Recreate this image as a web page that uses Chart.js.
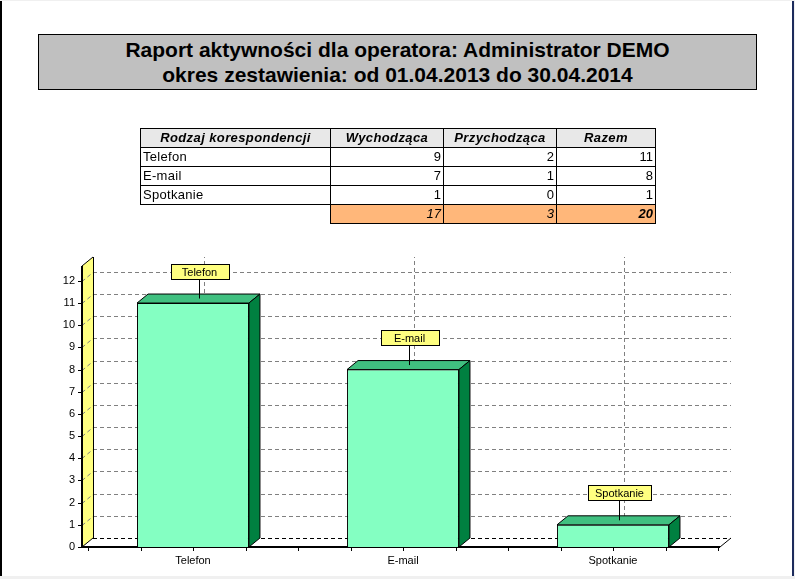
<!DOCTYPE html>
<html>
<head>
<meta charset="utf-8">
<script src="https://cdn.jsdelivr.net/npm/chart.js@4.4.1/dist/chart.umd.min.js"></script>
<style>
html, body { margin: 0; padding: 0; background: #f0f0f0; width: 795px; height: 579px; overflow: hidden; }
#page { position: absolute; left: 0; top: 1px; width: 794px; height: 575px; background: #fff;
        border-left: 2px solid #000; border-right: 2px solid #1c2b5c; box-sizing: border-box; }
#wykres { position: absolute; left: 0; top: 0; }
#tytul { position: absolute; left: 38px; top: 34px; width: 719px; height: 56px; box-sizing: border-box;
         background: #c0c0c0; border: 1px solid #000; text-align: center;
         font: bold 21px "Liberation Sans", Arial, sans-serif; line-height: 25px; padding-top: 2px; color: #000; }
#tabela { position: absolute; left: 140px; top: 128px; border-collapse: collapse;
          font: 13px "Liberation Sans", Arial, sans-serif; color: #000; }
#tabela td, #tabela th { border: 1px solid #000; height: 18px; padding: 0 2px; line-height: 16px; }
#tabela th { background: #e8e8e8; font-style: italic; font-weight: bold; text-align: center; letter-spacing: 0.4px; }
#tabela td.l { text-align: left; letter-spacing: 0.3px; }
#tabela td.r { text-align: right; }
#tabela tr.suma td { background: #ffb77a; font-style: italic; text-align: right; }
#tabela tr.suma td.pusty { background: transparent; border: none; }
</style>
</head>
<body>
<div id="page"></div>
<canvas id="wykres" width="795" height="579"></canvas>
<div id="tytul">Raport aktywności dla operatora: Administrator DEMO<br>okres zestawienia: od 01.04.2013 do 30.04.2014</div>
<table id="tabela"></table>
<script>
// dane z raportu
const kategorie = ['Telefon', 'E-mail', 'Spotkanie'];
const wychodzace = [9, 7, 1];
const przychodzace = [2, 1, 0];
const razem = [11, 8, 1];
const sumy = [17, 3, 20];
const naglowki = ['Rodzaj korespondencji', 'Wychodząca', 'Przychodząca', 'Razem'];

// tabela
const szerokosci = [190, 113, 113, 99];
let html = '<tr>' + naglowki.map((n, i) => `<th style="width:${szerokosci[i] - 5}px">${n}</th>`).join('') + '</tr>';
kategorie.forEach((k, i) => {
    html += `<tr><td class="l">${k}</td><td class="r">${wychodzace[i]}</td><td class="r">${przychodzace[i]}</td><td class="r">${razem[i]}</td></tr>`;
});
html += '<tr class="suma"><td class="pusty"></td>' +
    sumy.map((s, i) => `<td${i == 2 ? ' style="font-weight:bold"' : ''}>${s}</td>`).join('') + '</tr>';
document.getElementById('tabela').innerHTML = html;

// efekt 3D
const DX = 11, DY = -9;
const czcionka = '11px "Liberation Sans", Arial, sans-serif';

const trojwymiar = {
    id: 'trojwymiar',
    beforeDatasetsDraw(chart) {
        const { ctx, chartArea: a, scales: { x, y } } = chart;
        const wx = a.left - 6;
        const prawo = a.right + 2;
        const gora = y.getPixelForValue(y.max);
        ctx.save();

        // żółta ściana
        ctx.fillStyle = '#ffff80';
        ctx.beginPath();
        ctx.moveTo(wx, gora);
        ctx.lineTo(wx + DX, gora + DY);
        ctx.lineTo(wx + DX, a.bottom + DY);
        ctx.lineTo(wx, a.bottom);
        ctx.closePath();
        ctx.fill();

        // siatka na tylnej ścianie
        ctx.strokeStyle = '#808080';
        ctx.lineWidth = 1;
        ctx.setLineDash([4, 3]);
        y.ticks.forEach(t => {
            if (t.value === 0) return;
            const py = Math.round(y.getPixelForValue(t.value)) + 0.5;
            ctx.beginPath();
            ctx.moveTo(wx + DX, py + DY);
            ctx.lineTo(prawo + DX, py + DY);
            ctx.stroke();
            ctx.beginPath();
            ctx.moveTo(wx, py);
            ctx.lineTo(wx + DX, py + DY);
            ctx.stroke();
        });
        kategorie.forEach((k, i) => {
            const px = Math.round(x.getPixelForValue(i)) + DX + 0.5;
            ctx.beginPath();
            ctx.moveTo(px, a.bottom + DY);
            ctx.lineTo(px, gora + DY);
            ctx.stroke();
        });

        // podłoga
        ctx.strokeStyle = '#000';
        ctx.beginPath();
        ctx.moveTo(wx + DX, a.bottom + DY + 0.5);
        ctx.lineTo(prawo + DX, a.bottom + DY + 0.5);
        ctx.stroke();
        ctx.setLineDash([]);
        ctx.beginPath();
        ctx.moveTo(prawo, a.bottom);
        ctx.lineTo(prawo + DX, a.bottom + DY);
        ctx.moveTo(wx, a.bottom);
        ctx.lineTo(wx + DX, a.bottom + DY);
        ctx.moveTo(wx, gora);
        ctx.lineTo(wx + DX, gora + DY);
        ctx.moveTo(wx + DX + 0.5, gora + DY);
        ctx.lineTo(wx + DX + 0.5, a.bottom + DY);
        ctx.stroke();

        ctx.lineWidth = 2;
        ctx.beginPath();
        ctx.moveTo(wx, gora);
        ctx.lineTo(wx, a.bottom);
        ctx.moveTo(wx, a.bottom);
        ctx.lineTo(prawo, a.bottom);
        ctx.stroke();

        // kreski osi
        ctx.lineWidth = 1;
        ctx.beginPath();
        y.ticks.forEach(t => {
            const py = Math.round(y.getPixelForValue(t.value)) + 0.5;
            ctx.moveTo(wx - 4, py);
            ctx.lineTo(wx, py);
        });
        const w = (x.right - x.left) / kategorie.length;
        for (let j = 0; j <= kategorie.length * 4; j++) {
            const px = Math.round(x.left + j * w / 4) + 0.5;
            ctx.moveTo(px, a.bottom);
            ctx.lineTo(px, a.bottom + 4);
        }
        ctx.stroke();
        ctx.restore();
    },
    afterDatasetsDraw(chart) {
        const { ctx } = chart;
        const meta = chart.getDatasetMeta(0);
        ctx.save();
        ctx.lineWidth = 1;
        ctx.strokeStyle = '#000';
        meta.data.forEach((bar, i) => {
            const l = bar.x - bar.width / 2, r = bar.x + bar.width / 2;
            const t = bar.y, b = bar.base;
            // góra
            ctx.fillStyle = '#40c080';
            ctx.beginPath();
            ctx.moveTo(l, t);
            ctx.lineTo(l + DX, t + DY);
            ctx.lineTo(r + DX, t + DY);
            ctx.lineTo(r, t);
            ctx.closePath();
            ctx.fill();
            ctx.stroke();
            // bok
            ctx.fillStyle = '#008040';
            ctx.beginPath();
            ctx.moveTo(r, t);
            ctx.lineTo(r + DX, t + DY);
            ctx.lineTo(r + DX, b + DY);
            ctx.lineTo(r, b);
            ctx.closePath();
            ctx.fill();
            ctx.stroke();

            // etykieta
            const cx = Math.round(bar.x + DX / 2) + 0.5;
            const cy = t + DY / 2;
            ctx.beginPath();
            ctx.moveTo(cx, cy);
            ctx.lineTo(cx, cy - 20);
            ctx.stroke();
            ctx.font = czcionka;
            const tw = ctx.measureText(kategorie[i]).width;
            const bw = Math.round(Math.max(tw + 14, 58));
            const bx = Math.round(cx - bw / 2) + 0.5;
            const by = Math.round(cy - 35) + 0.5;
            ctx.fillStyle = '#ffff80';
            ctx.fillRect(bx, by, bw, 15);
            ctx.strokeRect(bx, by, bw, 15);
            ctx.fillStyle = '#000';
            ctx.textAlign = 'center';
            ctx.textBaseline = 'middle';
            ctx.fillText(kategorie[i], cx, by + 8);
        });
        ctx.restore();
    }
};

const ctx = document.getElementById('wykres').getContext('2d');
const wykres = new Chart(ctx, {
    type: 'bar',
    data: {
        labels: kategorie,
        datasets: [{
            data: razem,
            backgroundColor: '#84ffc2',
            borderColor: '#000',
            borderWidth: 1,
            barPercentage: 0.533,
            categoryPercentage: 1
        }]
    },
    options: {
        responsive: false,
        animation: false,
        devicePixelRatio: 1,
        layout: { padding: { left: 0, top: 266, right: 77, bottom: 0 } },
        plugins: { legend: { display: false }, tooltip: { enabled: false } },
        scales: {
            x: {
                grid: { display: false, drawTicks: false },
                border: { display: false },
                ticks: { color: '#000', font: { size: 11, family: '"Liberation Sans", Arial, sans-serif' }, padding: 7 },
                afterFit(s) { s.height = 32; }
            },
            y: {
                min: 0,
                max: 12.67,
                grid: { display: false, drawTicks: false },
                border: { display: false },
                ticks: { stepSize: 1, includeBounds: false, color: '#000', font: { size: 11, family: '"Liberation Sans", Arial, sans-serif' }, padding: 13 },
                afterBuildTicks(s) { s.ticks = s.ticks.filter(t => Number.isInteger(t.value)); },
                afterFit(s) { s.width = 88; }
            }
        }
    },
    plugins: [trojwymiar]
});
</script>
</body>
</html>
